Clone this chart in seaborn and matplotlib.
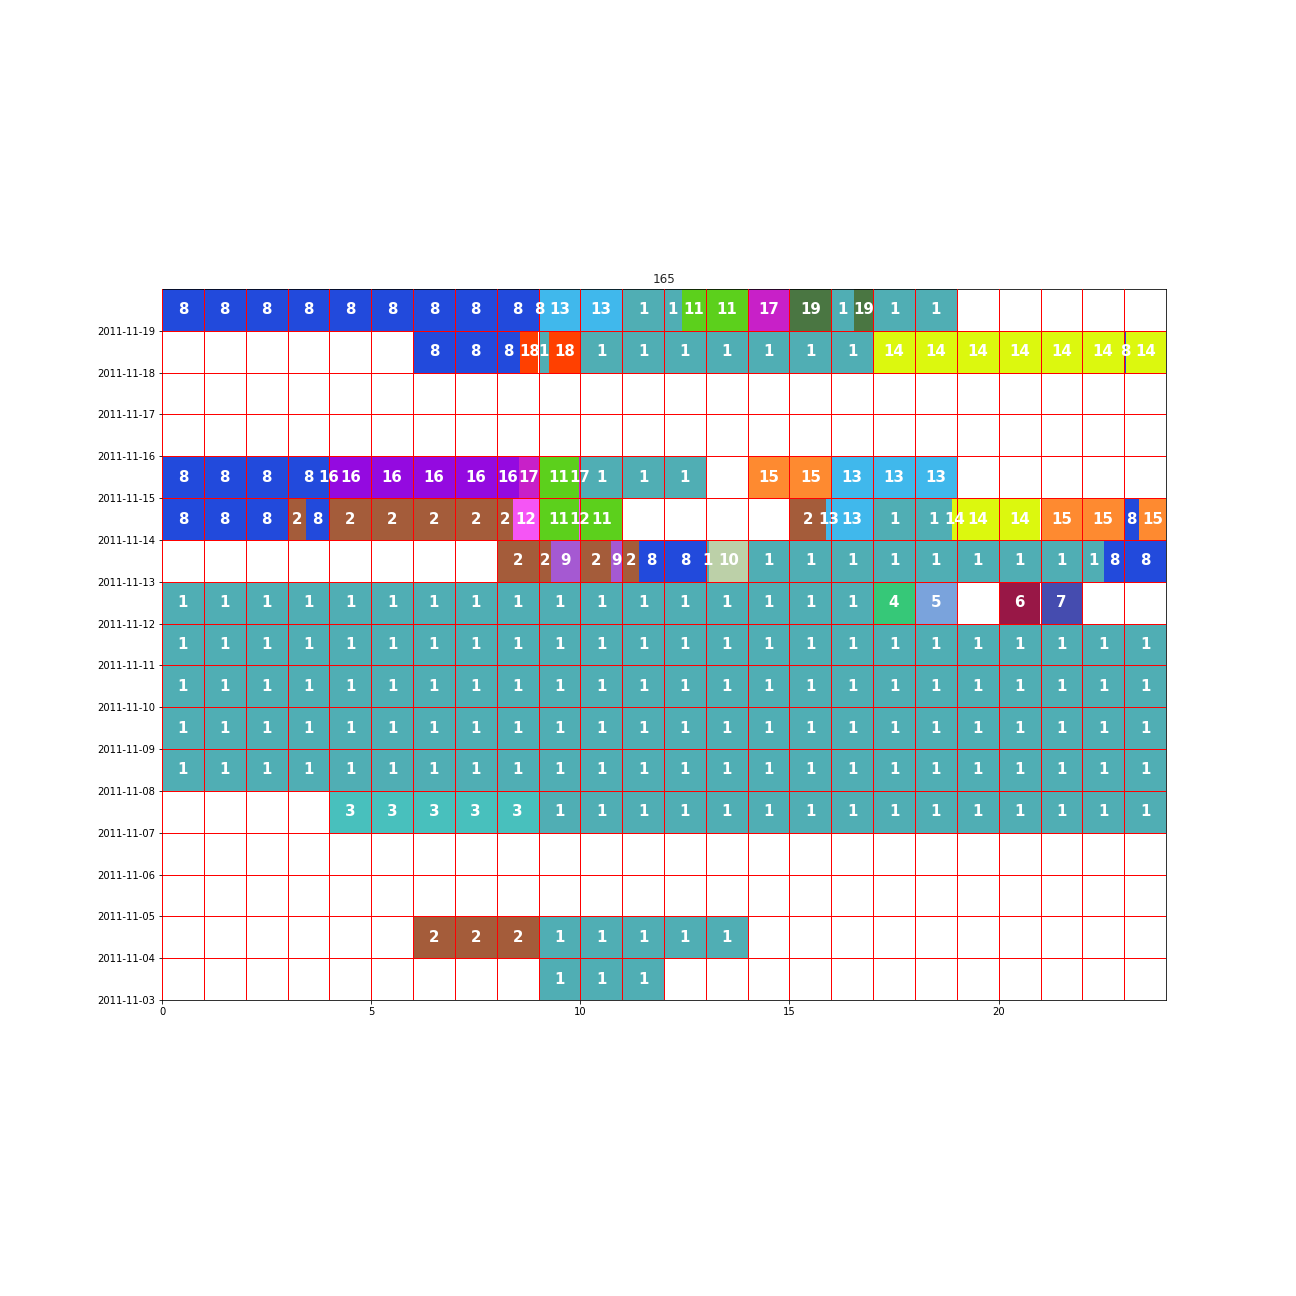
import matplotlib
matplotlib.use("Agg")
import matplotlib.pyplot as plt
import matplotlib.dates as mdates
from matplotlib.ticker import MultipleLocator, NullFormatter
import seaborn as sns
import pandas as pd
import numpy as np

# cluster colours, cluster 1 .. 19
cluster_colors = ["#50aeb4", "#a45c3a", "#48c0bd", "#36c878", "#7aa3dc",
                  "#981746", "#454caf", "#224adc", "#a559d2", "#bcd0a8",
                  "#5cd01c", "#f555f5", "#40b8ec", "#dcf80e", "#fe8a30",
                  "#940ae0", "#c820c8", "#ff4000", "#4a7642"]

# one entry per run of the same cluster (hours of the day)
seg_day = (["2011-11-19"] * 9 + ["2011-11-18"] * 8 + ["2011-11-15"] * 8 +
           ["2011-11-14"] * 15 + ["2011-11-13"] * 10 + ["2011-11-12"] * 5 +
           ["2011-11-11", "2011-11-10", "2011-11-09", "2011-11-08"] +
           ["2011-11-07"] * 2 + ["2011-11-04"] * 2 + ["2011-11-03"])
seg_start = [0, 9.04, 11, 12.43, 14, 15, 16, 16.54, 17,
             6, 8.56, 9, 9.25, 10, 17, 23, 23.04,
             0, 3.99, 8.53, 9, 9.97, 10, 14, 16,
             0, 3, 3.44, 4, 8.40, 9, 9.97, 10, 15, 15.88, 17, 18.88, 21, 23, 23.35,
             8, 9.30, 10, 10.73, 11, 11.41, 13, 13.08, 14, 22.52,
             0, 17, 18, 20, 21,
             0, 0, 0, 0,
             4, 9,
             6, 9,
             9]
seg_end = [9.04, 11, 12.43, 14, 15, 16, 16.54, 17, 19,
           8.56, 9, 9.25, 10, 17, 23, 23.04, 24,
           3.99, 8.53, 9, 9.97, 10, 13, 16, 19,
           3, 3.44, 4, 8.40, 9, 9.97, 10, 11, 15.88, 17, 18.88, 21, 23, 23.35, 24,
           9.30, 10, 10.73, 11, 11.41, 13, 13.08, 14, 22.52, 24,
           17, 18, 19, 21, 22,
           24, 24, 24, 24,
           9, 24,
           9, 14,
           12]
seg_cluster = [8, 13, 1, 11, 17, 19, 1, 19, 1,
               8, 18, 1, 18, 1, 14, 8, 14,
               8, 16, 17, 11, 17, 1, 15, 13,
               8, 2, 8, 2, 12, 11, 12, 11, 2, 13, 1, 14, 15, 8, 15,
               2, 9, 2, 9, 2, 8, 1, 10, 1, 8,
               1, 4, 5, 6, 7,
               1, 1, 1, 1,
               3, 1,
               2, 1,
               1]

day_labels = ["2011-11-03", "2011-11-04", "2011-11-05", "2011-11-06",
              "2011-11-07", "2011-11-08", "2011-11-09", "2011-11-10",
              "2011-11-11", "2011-11-12", "2011-11-13", "2011-11-14",
              "2011-11-15", "2011-11-16", "2011-11-17", "2011-11-18",
              "2011-11-19"]

sns.set_style("ticks")
palette = sns.color_palette(cluster_colors)

fig = plt.figure(figsize=(18, 18), dpi=72)
ax = fig.add_axes([162 / 1296, 296 / 1296, 1004 / 1296, 711 / 1296])

for d, s, e, c in zip(seg_day, seg_start, seg_end, seg_cluster):
    y = mdates.date2num(pd.Timestamp(d))
    ax.barh(y, e - s, left=s, height=1, align="edge",
            color=palette[c - 1], linewidth=0)
    # one label per hour piece of the run
    h = s
    while h < e - 1e-9:
        nxt = min(np.floor(h) + 1, e)
        ax.text((h + nxt) / 2, y + 0.5, str(c), color="white",
                fontsize=15, fontweight="bold", ha="center", va="center")
        h = nxt

ax.set_xlim(0, 24)
ax.set_ylim(mdates.date2num(pd.Timestamp("2011-11-03")),
            mdates.date2num(pd.Timestamp("2011-11-20")))
ax.xaxis.set_major_locator(MultipleLocator(5))
ax.xaxis.set_minor_locator(MultipleLocator(1))
ax.xaxis.set_minor_formatter(NullFormatter())
ax.tick_params(axis="x", which="minor", length=0)
ax.set_yticks([mdates.date2num(pd.Timestamp(t)) for t in day_labels])
ax.set_yticklabels(day_labels)
ax.tick_params(labelsize=10, colors="black")
for sp in ax.spines.values():
    sp.set_color("black")

ax.set_axisbelow(False)
ax.grid(True, which="both", color="red", linewidth=1)
ax.set_title("165", fontsize=12)

fig.savefig("out.png", dpi=72)
